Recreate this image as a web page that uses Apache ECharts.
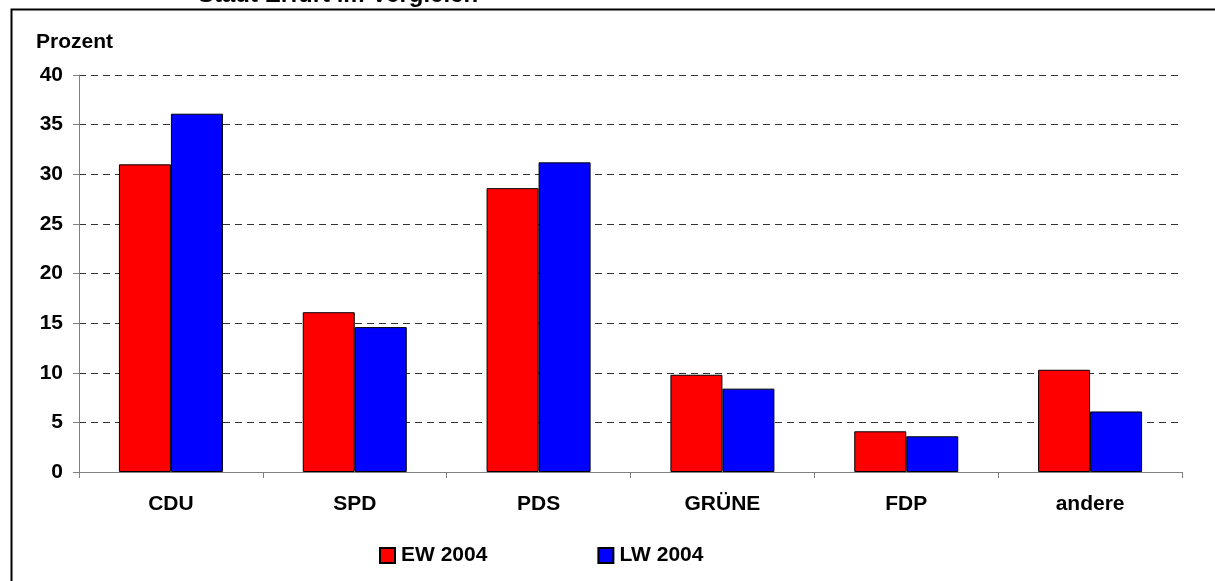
<!DOCTYPE html>
<html>
<head>
<meta charset="utf-8">
<script src="https://cdn.jsdelivr.net/npm/echarts@6/dist/echarts.min.js"></script>
<style>
html,body{margin:0;padding:0;background:#fff;}
#chart{width:1215px;height:581px;}
</style>
</head>
<body>
<div id="chart"></div>
<script>
const categories = ['CDU', 'SPD', 'PDS', 'GRÜNE', 'FDP', 'andere'];
const seriesNames = ['EW 2004', 'LW 2004'];
const ew2004 = [31.0, 16.1, 28.6, 9.8, 4.1, 10.3];
const lw2004 = [36.1, 14.6, 31.2, 8.4, 3.6, 6.1];
const yMin = 0, yMax = 40, yStep = 5;
const titleText = 'Stadt Erfurt im Vergleich';
const yAxisTitle = 'Prozent';

const FONT = "'Liberation Sans', Arial, sans-serif";
const FS = 21;

const chart = echarts.init(document.getElementById('chart'), null, {renderer: 'canvas'});
chart.setOption({
  animation: false,
  backgroundColor: '#fff',
  textStyle: {fontFamily: FONT},
  title: [{
    text: yAxisTitle,
    left: 36, top: 32, padding: 0,
    textStyle: {fontFamily: FONT, fontSize: FS, fontWeight: 'bold', color: '#000'}
  }],
  graphic: [
    {type: 'rect', left: 9, top: 7, z: -1, silent: true,
     shape: {x: 0, y: 0, width: 1400, height: 800},
     style: {fill: null, stroke: '#000', lineWidth: 2}},
    {type: 'text', left: 198, top: -17, silent: true,
     style: {text: titleText, font: 'bold 24px ' + FONT, fill: '#000'}}
  ],
  legend: {
    data: seriesNames,
    left: 379, top: 545, padding: 0,
    itemWidth: 15, itemHeight: 15, itemGap: 110,
    icon: 'rect',
    textStyle: {fontFamily: FONT, fontSize: FS, fontWeight: 'bold', color: '#000', padding: [0, 0, 0, 1]}
  },
  grid: {left: 79, top: 75, width: 1103, height: 397, containLabel: false},
  xAxis: {
    type: 'category',
    data: categories,
    boundaryGap: true,
    axisLine: {lineStyle: {color: '#808080', width: 1}},
    axisTick: {show: true, alignWithLabel: false, interval: 0, length: 6, lineStyle: {color: '#808080'}},
    axisLabel: {margin: 22, fontFamily: FONT, fontSize: FS, fontWeight: 'bold', color: '#000', interval: 0},
    splitLine: {show: false}
  },
  yAxis: {
    type: 'value',
    min: yMin, max: yMax, interval: yStep,
    axisLine: {show: true, lineStyle: {color: '#808080', width: 1}},
    axisTick: {show: true, length: 6, lineStyle: {color: '#808080'}},
    axisLabel: {margin: 16, fontFamily: FONT, fontSize: FS, fontWeight: 'bold', color: '#000'},
    splitLine: {show: true, lineStyle: {color: '#333', width: 1, type: [7, 5]}}
  },
  series: [
    {name: seriesNames[0], type: 'bar', data: ew2004, barWidth: 52, barGap: '0%',
     itemStyle: {color: '#ff0000', borderColor: '#000', borderWidth: 1}},
    {name: seriesNames[1], type: 'bar', data: lw2004, barWidth: 52, barGap: '0%',
     itemStyle: {color: '#0000ff', borderColor: '#000', borderWidth: 1}}
  ]
});
</script>
</body>
</html>
